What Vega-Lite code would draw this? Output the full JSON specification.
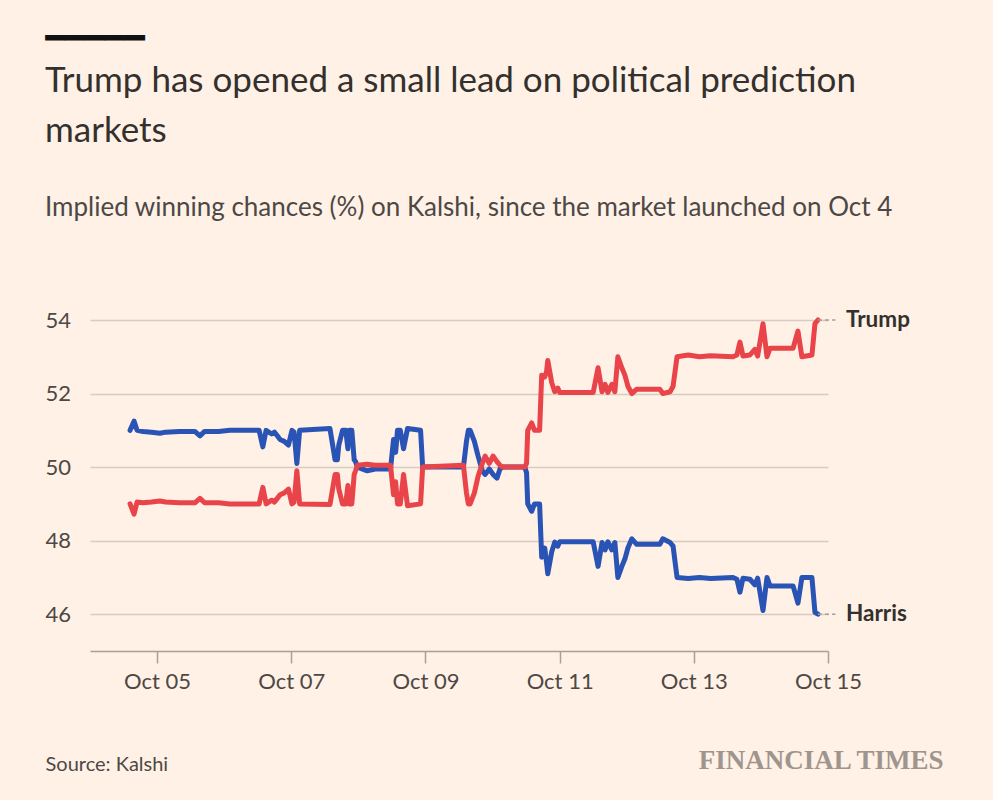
{
  "$schema": "https://vega.github.io/schema/vega-lite/v6.json",
  "autosize": {"type": "none"},
  "width": 738,
  "height": 331,
  "padding": {"left": 90, "top": 320, "right": 165, "bottom": 149},
  "background": "#FFF1E5",
  "config": {"view": {"stroke": null}},
  "title": {
    "text": ["Trump has opened a small lead on political prediction", "markets"],
    "subtitle": "Implied winning chances (%) on Kalshi, since the market launched on Oct 4",
    "anchor": "start",
    "frame": "group",
    "dx": -45,
    "offset": -199,
    "font": "Lato",
    "fontSize": 35,
    "fontWeight": "normal",
    "color": "#33302e",
    "lineHeight": 50,
    "subtitleFont": "Lato",
    "subtitleFontSize": 26,
    "subtitleColor": "#4d4845",
    "subtitlePadding": 46
  },
  "datasets": {
    "series": [
      {"c": "Harris", "d": "2024-10-04T14:20", "v": 51.0},
      {"c": "Harris", "d": "2024-10-04T15:45", "v": 51.25},
      {"c": "Harris", "d": "2024-10-04T16:50", "v": 51.0},
      {"c": "Harris", "d": "2024-10-04T19:00", "v": 50.97},
      {"c": "Harris", "d": "2024-10-04T22:00", "v": 50.95},
      {"c": "Harris", "d": "2024-10-05T01:00", "v": 50.92},
      {"c": "Harris", "d": "2024-10-05T03:00", "v": 50.95},
      {"c": "Harris", "d": "2024-10-05T08:00", "v": 50.97},
      {"c": "Harris", "d": "2024-10-05T13:30", "v": 50.97},
      {"c": "Harris", "d": "2024-10-05T15:20", "v": 50.85},
      {"c": "Harris", "d": "2024-10-05T17:00", "v": 50.97},
      {"c": "Harris", "d": "2024-10-05T22:00", "v": 50.97},
      {"c": "Harris", "d": "2024-10-06T02:00", "v": 51.0},
      {"c": "Harris", "d": "2024-10-06T12:30", "v": 51.0},
      {"c": "Harris", "d": "2024-10-06T13:50", "v": 50.55},
      {"c": "Harris", "d": "2024-10-06T15:00", "v": 51.0},
      {"c": "Harris", "d": "2024-10-06T17:00", "v": 50.9},
      {"c": "Harris", "d": "2024-10-06T18:00", "v": 50.95},
      {"c": "Harris", "d": "2024-10-06T19:00", "v": 50.85},
      {"c": "Harris", "d": "2024-10-06T20:00", "v": 50.75},
      {"c": "Harris", "d": "2024-10-06T21:30", "v": 50.7},
      {"c": "Harris", "d": "2024-10-06T23:00", "v": 50.6},
      {"c": "Harris", "d": "2024-10-07T00:15", "v": 51.0},
      {"c": "Harris", "d": "2024-10-07T01:00", "v": 50.95},
      {"c": "Harris", "d": "2024-10-07T02:00", "v": 50.1},
      {"c": "Harris", "d": "2024-10-07T03:00", "v": 51.0},
      {"c": "Harris", "d": "2024-10-07T13:50", "v": 51.05},
      {"c": "Harris", "d": "2024-10-07T15:40", "v": 50.2},
      {"c": "Harris", "d": "2024-10-07T16:30", "v": 50.2},
      {"c": "Harris", "d": "2024-10-07T17:00", "v": 50.6},
      {"c": "Harris", "d": "2024-10-07T18:20", "v": 51.0},
      {"c": "Harris", "d": "2024-10-07T19:30", "v": 51.0},
      {"c": "Harris", "d": "2024-10-07T20:15", "v": 50.5},
      {"c": "Harris", "d": "2024-10-07T20:40", "v": 51.0},
      {"c": "Harris", "d": "2024-10-07T21:40", "v": 51.0},
      {"c": "Harris", "d": "2024-10-07T22:30", "v": 50.2},
      {"c": "Harris", "d": "2024-10-07T23:00", "v": 50.15},
      {"c": "Harris", "d": "2024-10-07T23:40", "v": 50.0},
      {"c": "Harris", "d": "2024-10-08T03:10", "v": 49.9},
      {"c": "Harris", "d": "2024-10-08T06:00", "v": 49.95},
      {"c": "Harris", "d": "2024-10-08T11:30", "v": 49.95},
      {"c": "Harris", "d": "2024-10-08T12:35", "v": 50.75},
      {"c": "Harris", "d": "2024-10-08T13:20", "v": 50.4},
      {"c": "Harris", "d": "2024-10-08T14:00", "v": 51.0},
      {"c": "Harris", "d": "2024-10-08T15:00", "v": 51.0},
      {"c": "Harris", "d": "2024-10-08T16:10", "v": 50.5},
      {"c": "Harris", "d": "2024-10-08T17:35", "v": 51.05},
      {"c": "Harris", "d": "2024-10-08T22:15", "v": 51.0},
      {"c": "Harris", "d": "2024-10-08T23:00", "v": 50.0},
      {"c": "Harris", "d": "2024-10-09T13:35", "v": 50.0},
      {"c": "Harris", "d": "2024-10-09T14:40", "v": 50.7},
      {"c": "Harris", "d": "2024-10-09T15:20", "v": 51.0},
      {"c": "Harris", "d": "2024-10-09T16:00", "v": 51.0},
      {"c": "Harris", "d": "2024-10-09T17:30", "v": 50.7},
      {"c": "Harris", "d": "2024-10-09T18:50", "v": 50.3},
      {"c": "Harris", "d": "2024-10-09T20:20", "v": 49.9},
      {"c": "Harris", "d": "2024-10-09T21:20", "v": 49.8},
      {"c": "Harris", "d": "2024-10-09T22:50", "v": 49.95},
      {"c": "Harris", "d": "2024-10-10T00:10", "v": 49.8},
      {"c": "Harris", "d": "2024-10-10T01:35", "v": 49.7},
      {"c": "Harris", "d": "2024-10-10T02:40", "v": 49.95},
      {"c": "Harris", "d": "2024-10-10T03:40", "v": 50.0},
      {"c": "Harris", "d": "2024-10-10T11:30", "v": 50.0},
      {"c": "Harris", "d": "2024-10-10T12:10", "v": 49.85},
      {"c": "Harris", "d": "2024-10-10T12:35", "v": 49.0},
      {"c": "Harris", "d": "2024-10-10T14:00", "v": 48.8},
      {"c": "Harris", "d": "2024-10-10T15:00", "v": 49.0},
      {"c": "Harris", "d": "2024-10-10T16:50", "v": 49.0},
      {"c": "Harris", "d": "2024-10-10T17:35", "v": 47.55},
      {"c": "Harris", "d": "2024-10-10T18:40", "v": 47.8},
      {"c": "Harris", "d": "2024-10-10T19:20", "v": 47.4},
      {"c": "Harris", "d": "2024-10-10T19:45", "v": 47.1},
      {"c": "Harris", "d": "2024-10-10T21:10", "v": 47.7},
      {"c": "Harris", "d": "2024-10-10T22:15", "v": 47.96},
      {"c": "Harris", "d": "2024-10-10T23:20", "v": 47.85},
      {"c": "Harris", "d": "2024-10-11T00:00", "v": 47.97},
      {"c": "Harris", "d": "2024-10-11T12:00", "v": 47.97},
      {"c": "Harris", "d": "2024-10-11T13:45", "v": 47.3},
      {"c": "Harris", "d": "2024-10-11T15:10", "v": 47.95},
      {"c": "Harris", "d": "2024-10-11T16:15", "v": 47.75},
      {"c": "Harris", "d": "2024-10-11T17:15", "v": 47.97},
      {"c": "Harris", "d": "2024-10-11T18:40", "v": 47.75},
      {"c": "Harris", "d": "2024-10-11T19:45", "v": 47.95},
      {"c": "Harris", "d": "2024-10-11T20:50", "v": 47.0},
      {"c": "Harris", "d": "2024-10-11T22:15", "v": 47.3},
      {"c": "Harris", "d": "2024-10-11T23:20", "v": 47.5},
      {"c": "Harris", "d": "2024-10-12T00:25", "v": 47.8},
      {"c": "Harris", "d": "2024-10-12T01:50", "v": 48.05},
      {"c": "Harris", "d": "2024-10-12T03:35", "v": 47.9},
      {"c": "Harris", "d": "2024-10-12T11:50", "v": 47.9},
      {"c": "Harris", "d": "2024-10-12T12:55", "v": 48.05},
      {"c": "Harris", "d": "2024-10-12T15:30", "v": 47.95},
      {"c": "Harris", "d": "2024-10-12T16:35", "v": 47.85},
      {"c": "Harris", "d": "2024-10-12T18:00", "v": 47.0},
      {"c": "Harris", "d": "2024-10-12T22:00", "v": 46.97},
      {"c": "Harris", "d": "2024-10-13T02:00", "v": 47.0},
      {"c": "Harris", "d": "2024-10-13T06:00", "v": 46.97},
      {"c": "Harris", "d": "2024-10-13T14:00", "v": 47.0},
      {"c": "Harris", "d": "2024-10-13T15:25", "v": 46.95},
      {"c": "Harris", "d": "2024-10-13T16:30", "v": 46.6},
      {"c": "Harris", "d": "2024-10-13T17:35", "v": 46.98},
      {"c": "Harris", "d": "2024-10-13T20:05", "v": 46.95},
      {"c": "Harris", "d": "2024-10-13T21:50", "v": 46.8},
      {"c": "Harris", "d": "2024-10-13T22:50", "v": 46.98},
      {"c": "Harris", "d": "2024-10-14T00:45", "v": 46.1},
      {"c": "Harris", "d": "2024-10-14T02:10", "v": 47.0},
      {"c": "Harris", "d": "2024-10-14T03:15", "v": 46.77},
      {"c": "Harris", "d": "2024-10-14T11:30", "v": 46.77},
      {"c": "Harris", "d": "2024-10-14T13:15", "v": 46.3},
      {"c": "Harris", "d": "2024-10-14T14:40", "v": 47.0},
      {"c": "Harris", "d": "2024-10-14T18:15", "v": 47.0},
      {"c": "Harris", "d": "2024-10-14T19:20", "v": 46.05},
      {"c": "Harris", "d": "2024-10-14T20:25", "v": 46.0},
      {"c": "Trump", "d": "2024-10-04T14:20", "v": 49.0},
      {"c": "Trump", "d": "2024-10-04T15:45", "v": 48.72},
      {"c": "Trump", "d": "2024-10-04T16:50", "v": 49.05},
      {"c": "Trump", "d": "2024-10-04T19:00", "v": 49.03},
      {"c": "Trump", "d": "2024-10-04T22:00", "v": 49.05},
      {"c": "Trump", "d": "2024-10-05T01:00", "v": 49.08},
      {"c": "Trump", "d": "2024-10-05T03:00", "v": 49.05},
      {"c": "Trump", "d": "2024-10-05T08:00", "v": 49.03},
      {"c": "Trump", "d": "2024-10-05T13:30", "v": 49.03},
      {"c": "Trump", "d": "2024-10-05T15:20", "v": 49.15},
      {"c": "Trump", "d": "2024-10-05T17:00", "v": 49.03},
      {"c": "Trump", "d": "2024-10-05T22:00", "v": 49.03},
      {"c": "Trump", "d": "2024-10-06T02:00", "v": 49.0},
      {"c": "Trump", "d": "2024-10-06T12:30", "v": 49.0},
      {"c": "Trump", "d": "2024-10-06T13:50", "v": 49.45},
      {"c": "Trump", "d": "2024-10-06T15:00", "v": 49.0},
      {"c": "Trump", "d": "2024-10-06T17:00", "v": 49.1},
      {"c": "Trump", "d": "2024-10-06T18:00", "v": 49.05},
      {"c": "Trump", "d": "2024-10-06T19:00", "v": 49.15},
      {"c": "Trump", "d": "2024-10-06T20:00", "v": 49.25},
      {"c": "Trump", "d": "2024-10-06T21:30", "v": 49.3},
      {"c": "Trump", "d": "2024-10-06T23:00", "v": 49.4},
      {"c": "Trump", "d": "2024-10-07T00:15", "v": 49.0},
      {"c": "Trump", "d": "2024-10-07T01:00", "v": 49.05},
      {"c": "Trump", "d": "2024-10-07T02:00", "v": 49.9},
      {"c": "Trump", "d": "2024-10-07T03:00", "v": 49.0},
      {"c": "Trump", "d": "2024-10-07T13:50", "v": 48.98},
      {"c": "Trump", "d": "2024-10-07T15:40", "v": 49.8},
      {"c": "Trump", "d": "2024-10-07T16:30", "v": 49.8},
      {"c": "Trump", "d": "2024-10-07T17:00", "v": 49.4},
      {"c": "Trump", "d": "2024-10-07T18:20", "v": 49.0},
      {"c": "Trump", "d": "2024-10-07T19:30", "v": 49.0},
      {"c": "Trump", "d": "2024-10-07T20:15", "v": 49.5},
      {"c": "Trump", "d": "2024-10-07T20:40", "v": 49.0},
      {"c": "Trump", "d": "2024-10-07T21:40", "v": 49.0},
      {"c": "Trump", "d": "2024-10-07T22:30", "v": 49.8},
      {"c": "Trump", "d": "2024-10-07T23:00", "v": 49.9},
      {"c": "Trump", "d": "2024-10-07T23:40", "v": 50.05},
      {"c": "Trump", "d": "2024-10-08T03:10", "v": 50.08},
      {"c": "Trump", "d": "2024-10-08T06:00", "v": 50.05},
      {"c": "Trump", "d": "2024-10-08T11:30", "v": 50.05},
      {"c": "Trump", "d": "2024-10-08T12:35", "v": 49.25},
      {"c": "Trump", "d": "2024-10-08T13:20", "v": 49.6},
      {"c": "Trump", "d": "2024-10-08T14:00", "v": 49.0},
      {"c": "Trump", "d": "2024-10-08T15:00", "v": 49.0},
      {"c": "Trump", "d": "2024-10-08T16:10", "v": 49.8},
      {"c": "Trump", "d": "2024-10-08T17:35", "v": 48.95},
      {"c": "Trump", "d": "2024-10-08T22:15", "v": 49.0},
      {"c": "Trump", "d": "2024-10-08T23:00", "v": 50.0},
      {"c": "Trump", "d": "2024-10-09T13:35", "v": 50.05},
      {"c": "Trump", "d": "2024-10-09T14:40", "v": 49.3},
      {"c": "Trump", "d": "2024-10-09T15:20", "v": 49.0},
      {"c": "Trump", "d": "2024-10-09T16:00", "v": 49.0},
      {"c": "Trump", "d": "2024-10-09T17:30", "v": 49.3},
      {"c": "Trump", "d": "2024-10-09T18:50", "v": 49.75},
      {"c": "Trump", "d": "2024-10-09T20:20", "v": 50.1},
      {"c": "Trump", "d": "2024-10-09T21:20", "v": 50.3},
      {"c": "Trump", "d": "2024-10-09T22:50", "v": 50.1},
      {"c": "Trump", "d": "2024-10-10T00:10", "v": 50.3},
      {"c": "Trump", "d": "2024-10-10T01:35", "v": 50.15},
      {"c": "Trump", "d": "2024-10-10T02:40", "v": 50.05},
      {"c": "Trump", "d": "2024-10-10T03:40", "v": 50.0},
      {"c": "Trump", "d": "2024-10-10T11:30", "v": 50.0},
      {"c": "Trump", "d": "2024-10-10T12:10", "v": 50.1},
      {"c": "Trump", "d": "2024-10-10T12:35", "v": 51.0},
      {"c": "Trump", "d": "2024-10-10T14:00", "v": 51.2},
      {"c": "Trump", "d": "2024-10-10T15:00", "v": 51.0},
      {"c": "Trump", "d": "2024-10-10T16:50", "v": 51.0},
      {"c": "Trump", "d": "2024-10-10T17:35", "v": 52.5},
      {"c": "Trump", "d": "2024-10-10T18:40", "v": 52.45},
      {"c": "Trump", "d": "2024-10-10T19:20", "v": 52.6},
      {"c": "Trump", "d": "2024-10-10T19:45", "v": 52.9},
      {"c": "Trump", "d": "2024-10-10T21:10", "v": 52.3},
      {"c": "Trump", "d": "2024-10-10T22:15", "v": 52.05},
      {"c": "Trump", "d": "2024-10-10T23:20", "v": 52.15},
      {"c": "Trump", "d": "2024-10-11T00:00", "v": 52.03},
      {"c": "Trump", "d": "2024-10-11T12:00", "v": 52.03},
      {"c": "Trump", "d": "2024-10-11T13:45", "v": 52.7},
      {"c": "Trump", "d": "2024-10-11T15:10", "v": 52.05},
      {"c": "Trump", "d": "2024-10-11T16:15", "v": 52.25},
      {"c": "Trump", "d": "2024-10-11T17:15", "v": 52.03},
      {"c": "Trump", "d": "2024-10-11T18:40", "v": 52.25},
      {"c": "Trump", "d": "2024-10-11T19:45", "v": 52.05},
      {"c": "Trump", "d": "2024-10-11T20:50", "v": 53.0},
      {"c": "Trump", "d": "2024-10-11T22:15", "v": 52.7},
      {"c": "Trump", "d": "2024-10-11T23:20", "v": 52.5},
      {"c": "Trump", "d": "2024-10-12T00:25", "v": 52.2},
      {"c": "Trump", "d": "2024-10-12T01:50", "v": 52.0},
      {"c": "Trump", "d": "2024-10-12T03:35", "v": 52.12},
      {"c": "Trump", "d": "2024-10-12T11:50", "v": 52.12},
      {"c": "Trump", "d": "2024-10-12T12:55", "v": 52.0},
      {"c": "Trump", "d": "2024-10-12T15:30", "v": 52.05},
      {"c": "Trump", "d": "2024-10-12T16:35", "v": 52.2},
      {"c": "Trump", "d": "2024-10-12T18:00", "v": 53.0},
      {"c": "Trump", "d": "2024-10-12T22:00", "v": 53.05},
      {"c": "Trump", "d": "2024-10-13T02:00", "v": 53.0},
      {"c": "Trump", "d": "2024-10-13T06:00", "v": 53.03},
      {"c": "Trump", "d": "2024-10-13T14:00", "v": 53.0},
      {"c": "Trump", "d": "2024-10-13T15:25", "v": 53.05},
      {"c": "Trump", "d": "2024-10-13T16:30", "v": 53.4},
      {"c": "Trump", "d": "2024-10-13T17:35", "v": 53.02},
      {"c": "Trump", "d": "2024-10-13T20:05", "v": 53.05},
      {"c": "Trump", "d": "2024-10-13T21:50", "v": 53.2},
      {"c": "Trump", "d": "2024-10-13T22:50", "v": 53.02},
      {"c": "Trump", "d": "2024-10-14T00:45", "v": 53.9},
      {"c": "Trump", "d": "2024-10-14T02:10", "v": 53.0},
      {"c": "Trump", "d": "2024-10-14T03:15", "v": 53.23},
      {"c": "Trump", "d": "2024-10-14T11:30", "v": 53.23},
      {"c": "Trump", "d": "2024-10-14T13:15", "v": 53.7},
      {"c": "Trump", "d": "2024-10-14T14:40", "v": 53.0},
      {"c": "Trump", "d": "2024-10-14T18:15", "v": 53.05},
      {"c": "Trump", "d": "2024-10-14T19:20", "v": 53.9},
      {"c": "Trump", "d": "2024-10-14T20:25", "v": 54.0}
    ],
    "ends": [
      {"c": "Trump", "d": "2024-10-14T20:25", "v": 54.0},
      {"c": "Harris", "d": "2024-10-14T20:25", "v": 46.0}
    ]
  },
  "data": {"name": "series"},
  "encoding": {
    "x": {
      "field": "d",
      "type": "temporal",
      "scale": {"domain": [{"year": 2024, "month": 10, "date": 4}, {"year": 2024, "month": 10, "date": 15}]},
      "axis": {
        "format": "%b %d",
        "tickCount": {"interval": "day", "step": 2},
        "grid": false,
        "domainColor": "#a7a09a",
        "domainWidth": 1.5,
        "tickColor": "#a7a09a",
        "tickSize": 12,
        "tickWidth": 1.5,
        "labelFont": "Lato",
        "labelFontSize": 22,
        "labelColor": "#4d4845",
        "labelPadding": 8,
        "labelFlush": false,
        "labelOverlap": false,
        "title": "Source: Kalshi",
        "titleX": -45,
        "titleY": 119,
        "titleAlign": "left",
        "titleBaseline": "alphabetic",
        "titleFont": "Lato",
        "titleFontSize": 20,
        "titleFontWeight": "normal",
        "titleColor": "#4d4845"
      }
    }
  },
  "layer": [
    {
      "encoding": {
        "y": {
          "field": "v",
          "type": "quantitative",
          "scale": {"domain": [45, 54], "nice": false, "zero": false},
          "axis": {
            "orient": "left",
            "values": [46, 48, 50, 52, 54],
            "domain": false,
            "ticks": false,
            "tickSize": 0,
            "grid": true,
            "gridColor": "#d6ccc3",
            "gridWidth": 1.3,
            "labelAlign": "left",
            "labelPadding": 45,
            "labelFont": "Lato",
            "labelFontSize": 22,
            "labelColor": "#4d4845",
            "title": "FINANCIAL TIMES",
            "titleAngle": 0,
            "titleX": 853,
            "titleY": 448,
            "titleAlign": "right",
            "titleBaseline": "alphabetic",
            "titleFont": "Liberation Serif",
            "titleFontSize": 27,
            "titleFontWeight": "bold",
            "titleColor": "#9e958e"
          }
        }
      },
      "layer": [
        {
          "transform": [{"filter": "datum.c === 'Harris'"}],
          "mark": {"type": "line", "color": "#2953b5", "strokeWidth": 5, "strokeJoin": "round", "strokeCap": "round"}
        },
        {
          "transform": [{"filter": "datum.c === 'Trump'"}],
          "mark": {"type": "line", "color": "#e8444a", "strokeWidth": 5, "strokeJoin": "round", "strokeCap": "round"}
        }
      ]
    },
    {
      "data": {"name": "ends"},
      "encoding": {
        "y": {
          "field": "v",
          "type": "quantitative",
          "scale": {"domain": [45, 54], "nice": false, "zero": false},
          "axis": {
            "orient": "right",
            "labels": false,
            "ticks": false,
            "domain": false,
            "grid": false,
            "title": "━━━━━",
            "titleAngle": 0,
            "titleX": -783,
            "titleY": -272,
            "titleAlign": "left",
            "titleBaseline": "alphabetic",
            "titleFont": "DejaVu Sans",
            "titleFontSize": 33,
            "titleFontWeight": "normal",
            "titleColor": "#111111"
          }
        }
      },
      "layer": [
        {
          "mark": {"type": "rule", "color": "#a7a09a", "strokeWidth": 1.5, "strokeDash": [4, 3]},
          "encoding": {
            "x2": {"datum": {"year": 2024, "month": 10, "date": 15, "hours": 2, "minutes": 40}}
          }
        },
        {
          "mark": {"type": "text", "align": "left", "baseline": "alphabetic", "dx": 28, "dy": 7, "font": "Lato", "fontSize": 22.5, "fontWeight": "bold", "color": "#33302e"},
          "encoding": {"text": {"field": "c"}}
        }
      ]
    }
  ],
  "resolve": {"scale": {"y": "independent"}, "axis": {"y": "independent"}}
}
